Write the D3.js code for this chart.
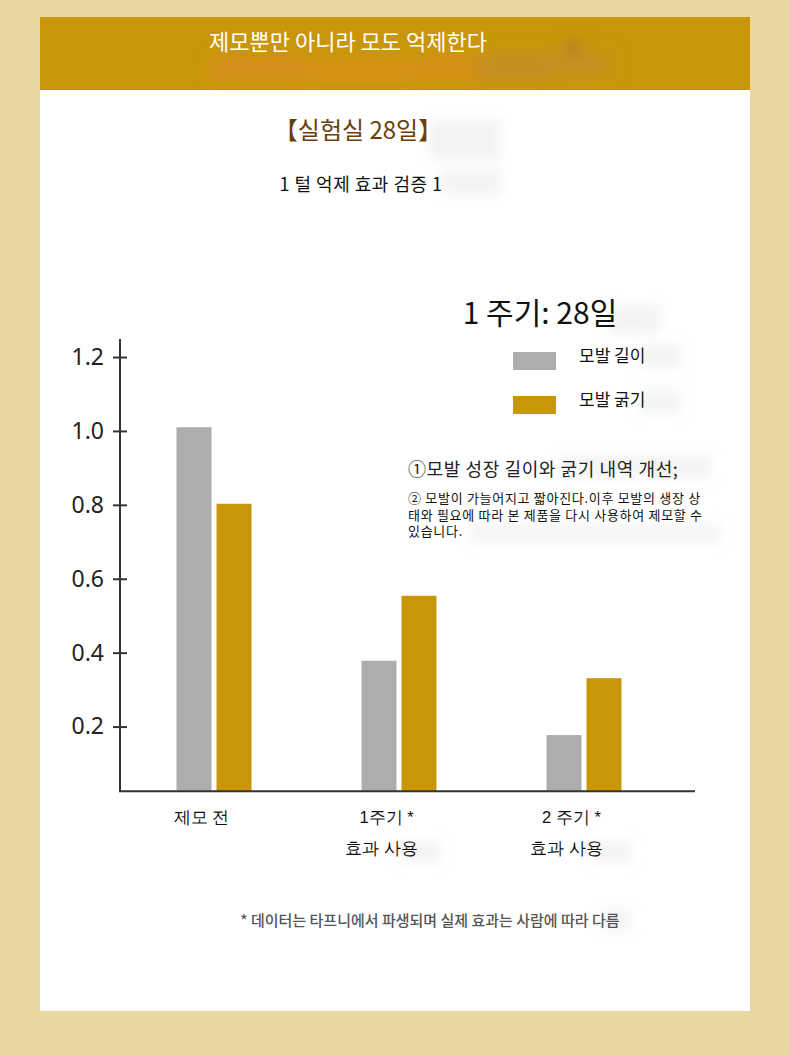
<!DOCTYPE html>
<html>
<head>
<meta charset="utf-8">
<script src="https://cdn.jsdelivr.net/npm/d3@7"></script>
<style>
  html, body { margin: 0; padding: 0; background: #e9d7a1; }
  svg { display: block; font-family: "Noto Sans CJK KR", "Noto Sans", sans-serif; }
</style>
</head>
<body>
<script>
// chart data
const categories = ["제모 전", "1주기 *\n효과 사용", "2 주기 *\n효과 사용"];
const seriesNames = ["모발 길이", "모발 굵기"];
const hairLength = [1.01, 0.378, 0.177];
const hairThickness = [0.803, 0.554, 0.331];
const yTicks = [0.2, 0.4, 0.6, 0.8, 1.0, 1.2];
const notes = [
  "①모발 성장 길이와 굵기 내역 개선;",
  "② 모발이 가늘어지고 짧아진다.이후 모발의 생장 상",
  "태와 필요에 따라 본 제품을 다시 사용하여 제모할 수",
  "있습니다."
];

const width = 790, height = 1055;
const colors = ["#adadad", "#c9960a"];

const svg = d3.select("body").append("svg")
  .attr("width", width).attr("height", height);

let defs = svg.append("defs");
defs.append("filter").attr("id", "blur")
  .attr("x", "-50%").attr("y", "-50%").attr("width", "200%").attr("height", "200%")
  .append("feGaussianBlur").attr("stdDeviation", 7);
defs.append("filter").attr("id", "blur2")
  .attr("x", "-50%").attr("y", "-50%").attr("width", "200%").attr("height", "200%")
  .append("feGaussianBlur").attr("stdDeviation", 6);

// page and card
svg.append("rect").attr("width", width).attr("height", height).attr("fill", "#e9d7a1");
svg.append("rect").attr("x", 40).attr("y", 17).attr("width", 710).attr("height", 994).attr("fill", "#ffffff");
svg.append("rect").attr("x", 40).attr("y", 17).attr("width", 710).attr("height", 73).attr("fill", "#c9960a");

// blurred smudges in the header
let smudge = svg.append("g").attr("filter", "url(#blur)");
[[212, 58, 95, 22, "#dc8a22"], [305, 62, 110, 18, "#e0901f"], [415, 58, 70, 20, "#d88a20"],
 [480, 54, 70, 26, "#c28b30"], [550, 52, 60, 24, "#c88d2a"], [566, 40, 14, 16, "#a87a35"]]
  .forEach(function(s) {
    smudge.append("rect").attr("x", s[0]).attr("y", s[1]).attr("width", s[2]).attr("height", s[3])
      .attr("fill", s[4]).attr("opacity", 0.7);
  });

// faint grey smudges behind texts
let ghost = svg.append("g").attr("filter", "url(#blur2)").attr("fill", "#f3f3f3");
[[430, 120, 70, 40], [440, 170, 60, 24], [610, 305, 50, 28], [640, 345, 40, 22], [640, 390, 40, 22],
 [560, 455, 150, 22], [470, 525, 250, 16], [600, 910, 30, 20], [400, 842, 40, 20], [590, 842, 40, 20]]
  .forEach(function(s) {
    ghost.append("rect").attr("x", s[0]).attr("y", s[1]).attr("width", s[2]).attr("height", s[3]);
  });

// header and titles
svg.append("text").attr("x", 348).attr("y", 50).attr("text-anchor", "middle")
  .attr("fill", "#ffffff").attr("font-size", 22).text("제모뿐만 아니라 모도 억제한다");
svg.append("text").attr("x", 358).attr("y", 139).attr("text-anchor", "middle")
  .attr("fill", "#6b3f0c").attr("font-size", 24).text("【실험실 28일】");
svg.append("text").attr("x", 361).attr("y", 191).attr("text-anchor", "middle")
  .attr("fill", "#111").attr("font-size", 18).attr("letter-spacing", 0.5).text("1 털 억제 효과 검증 1");
svg.append("text").attr("x", 540).attr("y", 324).attr("text-anchor", "middle")
  .attr("fill", "#111").attr("font-size", 30).text("1 주기: 28일");

// scales
const y = d3.scaleLinear().domain([0, 1.2]).range([800.5, 357]);
const yFloor = 0.025;   // the x axis sits a little above zero
const x0 = d3.scalePoint().domain(categories).range([214, 584]);
const x1 = d3.scaleBand().domain(seriesNames).range([-37.5, 37.5]).paddingInner(0.125);

const plot = svg.append("g");

// bars
const groups = plot.selectAll("g.grp")
  .data(categories).enter()
  .append("g").attr("class", "grp")
  .attr("transform", function(d) { return "translate(" + x0(d) + ",0)"; });

groups.selectAll("rect")
  .data(function(d, i) { return [hairLength[i], hairThickness[i]]; }).enter()
  .append("rect")
  .attr("x", function(d, j) { return x1(seriesNames[j]); })
  .attr("width", x1.bandwidth())
  .attr("y", function(d) { return y(d); })
  .attr("height", function(d) { return y(yFloor) - y(d); })
  .attr("fill", function(d, j) { return colors[j]; });

// y axis
const yAxis = plot.append("g").attr("transform", "translate(120,0)")
  .call(d3.axisLeft(y).tickValues(yTicks).tickFormat(d3.format(".1f")).tickSize(0).tickPadding(16));
yAxis.select(".domain").remove();
yAxis.append("line").attr("x1", 0).attr("x2", 0).attr("y1", 339).attr("y2", y(yFloor))
  .attr("stroke", "#333").attr("stroke-width", 2);
yAxis.selectAll(".tick").append("line").attr("x1", -7).attr("x2", 7)
  .attr("stroke", "#333").attr("stroke-width", 2);
yAxis.selectAll(".tick text").attr("font-size", 23).attr("fill", "#222")
  .attr("font-family", "'Noto Sans', sans-serif");

// x axis
const xAxis = plot.append("g").attr("transform", "translate(0," + y(yFloor) + ")")
  .call(d3.axisBottom(x0).tickSize(0).tickFormat(""));
xAxis.select(".domain").remove();
xAxis.append("line").attr("x1", 119).attr("x2", 695).attr("stroke", "#333").attr("stroke-width", 2);
xAxis.selectAll(".tick").each(function(d) {
  let lines = d.split("\n");
  let t = d3.select(this).append("text").attr("text-anchor", "middle")
    .attr("fill", "#111").attr("font-size", 16.5);
  lines.forEach(function(l, k) {
    t.append("tspan").attr("x", -13 - 5 * k).attr("y", 32 + k * 31).text(l);
  });
});

// legend
const legend = svg.append("g");
seriesNames.forEach(function(name, i) {
  legend.append("rect").attr("x", 513).attr("y", 352 + i * 44).attr("width", 43).attr("height", 18)
    .attr("fill", colors[i]);
  legend.append("text").attr("x", 579).attr("y", 356 + i * 44).attr("dy", "0.35em")
    .attr("fill", "#111").attr("font-size", 17).text(name);
});

// notes (the small paragraph is one text block with a tspan per line)
svg.append("text").attr("x", 408).attr("y", 476).attr("fill", "#222").attr("font-size", 18)
  .attr("letter-spacing", 0.6).text(notes[0]);
let para = svg.append("text").attr("fill", "#111")
  .attr("font-size", 13).attr("letter-spacing", 0.7);
notes.slice(1).forEach(function(n, i) {
  para.append("tspan").attr("x", 408).attr("y", 503 + i * 16.5).text(n);
});

// footnote
svg.append("text").attr("x", 430).attr("y", 926).attr("text-anchor", "middle")
  .attr("fill", "#555").attr("font-size", 15).attr("font-weight", 500)
  .text("* 데이터는 타프니에서 파생되며 실제 효과는 사람에 따라 다름");
</script>
</body>
</html>
